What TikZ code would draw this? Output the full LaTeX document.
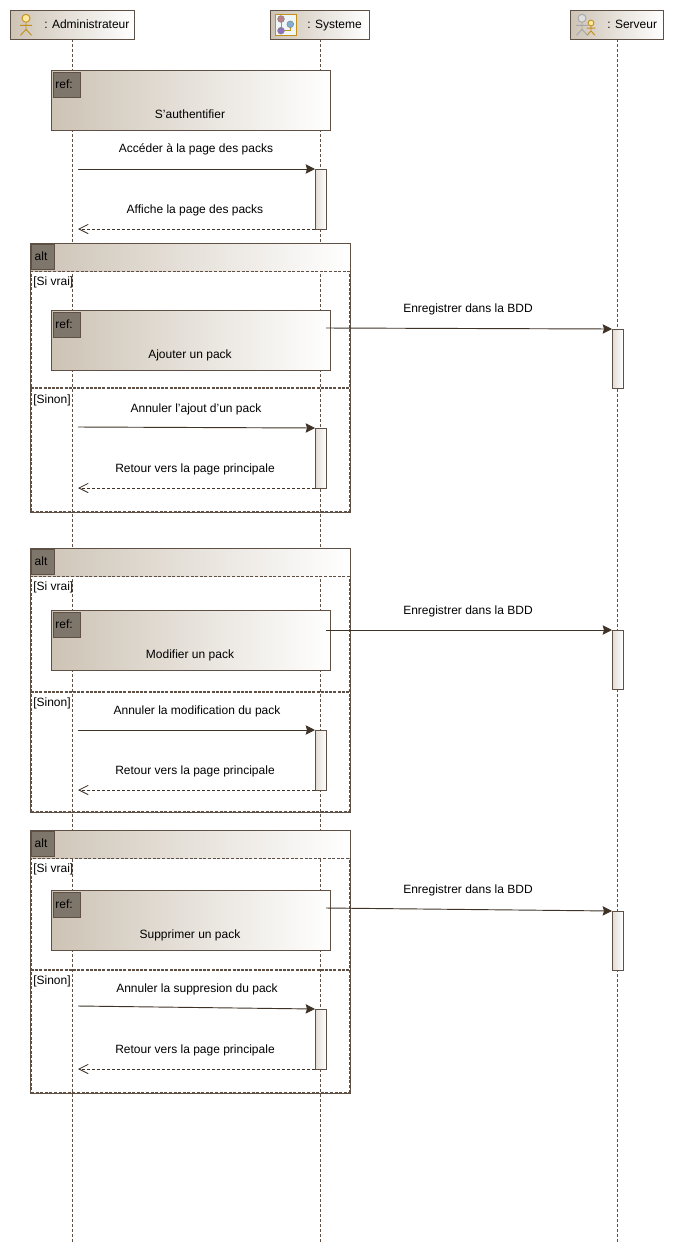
\documentclass[tikz,border=0pt]{standalone}
\usepackage{xcolor}
\usepackage{fontspec}
\setmainfont{Liberation Sans}
\usepackage{tikz}
\usetikzlibrary{shapes,shapes.misc,arrows.meta,positioning,calc}
\definecolor{framecol}{HTML}{5E5044}
\definecolor{msgcol}{HTML}{3F3227}
\definecolor{shadecol}{HTML}{CDC3B5}
\definecolor{tabcol}{HTML}{7F766B}
\definecolor{goldcol}{HTML}{C4901C}
\definecolor{headcol}{HTML}{FFE9A0}
\definecolor{rosecol}{HTML}{B88088}
\definecolor{skycol}{HTML}{7FAED0}
\definecolor{plumcol}{HTML}{8F70C0}
\definecolor{panecol}{HTML}{EEF6FA}

\begin{document}
\begin{tikzpicture}[
    x=0.75pt, y=-0.75pt,
    font=\fontsize{9}{11}\selectfont,
    framebox/.style={rectangle, draw=framecol, line width=0.6pt, inner sep=0pt, outer sep=0pt, anchor=north west},
    headbox/.style={framebox, left color=shadecol, right color=white, minimum height=21.75pt},
    refbox/.style={framebox, left color=shadecol, right color=white, minimum width=209.25pt, minimum height=45pt},
    altband/.style={rectangle, inner sep=0pt, outer sep=0pt, anchor=north west, left color=shadecol, right color=white, minimum width=240pt, minimum height=21pt},
    altframe/.style={framebox, minimum width=240pt},
    altbody/.style={framebox, dash pattern=on 2.25pt off 1.2pt, minimum width=238.5pt},
    sepline/.style={draw=framecol, line width=1.1pt, dash pattern=on 2.25pt off 0.9pt},
    tabbox/.style={chamfered rectangle, chamfered rectangle corners=south east, chamfered rectangle xsep=1.5pt, chamfered rectangle ysep=1.5pt, draw=framecol, fill=tabcol, line width=0.6pt, inner sep=0pt, outer sep=0pt, minimum height=18.75pt, anchor=north west},
    barbox/.style={framebox, left color=shadecol!60, right color=white, minimum width=8.25pt, minimum height=45pt},
    txt/.style={inner sep=0pt, text=black, text height=6.5pt, text depth=2pt, yshift=-1.3pt},
    lifeline/.style={draw=framecol, dash pattern=on 2.25pt off 1.5pt, line width=0.6pt},
    msg/.style={-{Stealth[length=7pt, width=7pt, inset=1pt]}, draw=msgcol, line width=0.7pt},
    msgback/.style={-{Straight Barb[length=7pt, width=7pt]}, draw=msgcol, line width=0.6pt, dash pattern=on 2.25pt off 1.5pt},
    actorfig/.pic={
        \draw [pic actions, fill=none] (0,4) -- (0,11) (-6,7) -- (6,7) (-5.5,17) -- (0,11) -- (5.5,17);
        \draw [pic actions] (0,0) circle (4);
    }
]
    \coordinate (admbot) at (72,1243);
    \coordinate (sysbot) at (320.5,1243);
    \coordinate (srvbot) at (617,1243);

    \node [headbox, minimum width=93pt] (adm) at (10,10) {};
    \node [headbox, minimum width=74.25pt] (sys) at (270,10) {};
    \node [headbox, minimum width=69.75pt] (srv) at (570,10) {};
    \node [txt, anchor=west] (admtxt) at (44,24) {: Administrateur};
    \node [txt, anchor=west] (systxt) at (307,24) {: Systeme};
    \node [txt, anchor=west] (srvtxt) at (607,24) {: Serveur};

    \draw [lifeline] (adm.south -| admbot) -- (admbot);
    \draw [lifeline] (sys.south -| sysbot) -- (sysbot);
    \draw [lifeline] (srv.south -| srvbot) -- (srvbot);

    \pic [draw=goldcol, fill=headcol, line width=0.7pt] at (26,18.3) {actorfig};
    \pic [draw=gray!70, fill=gray!25, line width=0.7pt] at (582,18.3) {actorfig};
    \pic [draw=goldcol, fill=headcol, line width=0.7pt, scale=0.72] at (591,23) {actorfig};
    \draw [draw=goldcol, fill=panecol, line width=0.7pt] (275.5,14.5) rectangle (296.5,35.5);
    \draw [draw=goldcol, line width=0.7pt] (281,19) -- (281,30.7) -- (290.3,30.7) -- (290.3,24.3);
    \draw [draw=framecol!70, fill=rosecol, line width=0.4pt] (281,19) circle (3.4);
    \draw [draw=framecol!70, fill=skycol, line width=0.4pt] (290.3,24.3) circle (3.4);
    \draw [draw=framecol!70, fill=plumcol, line width=0.4pt] (281,30.7) circle (3.4);

    \node [refbox] (ref1) at (51,70) {};
    \node [tabbox, minimum width=20.25pt] (tab1) at (53,72) {};
    \node [txt] (tab1txt) at (64,84) {ref:};
    \node [txt] (ref1txt) at (190,114) {S'authentifier};

    \node [barbox] (bar1) at (315,169) {};
    \node [txt] (m1) at (196,148) {Accéder à la page des packs};
    \node [txt] (m2) at (195,209) {Affiche la page des packs};
    \coordinate (adm1) at (78,169);
    \coordinate (adm2) at (78,229);
    \draw [msg] (adm1) -- (bar1.north west);
    \draw [msgback] (bar1.south west) -- (adm2);

    \node [altband] (alt1band) at (30,243) {};
    \node [altframe, minimum height=201.75pt] (alt1) at (30,243) {};
    \node [altbody, minimum height=180pt] (alt1body) at (31,271) {};
    \node [tabbox, minimum width=17.25pt] (alt1tab) at (31,244) {};
    \node [txt] (alt1txt) at (41,256) {alt};
    \node [txt, anchor=west] (alt1c) at (33,281) {[Si vrai]};
    \node [txt, anchor=west] (alt1d) at (33,398.5) {[Sinon]};
    \coordinate (sep1l) at (31,388);
    \coordinate (sep1r) at (349,388);
    \draw [sepline] (sep1l) -- (sep1r);
    \node [refbox] (ref2) at (51,310) {};
    \node [tabbox, minimum width=20.25pt] (tab2) at (53,312) {};
    \node [txt] (tab2txt) at (64,324) {ref:};
    \node [txt] (ref2txt) at (190,354) {Ajouter un pack};
    \node [barbox, minimum height=44.25pt] (bar2) at (612,329) {};
    \node [txt] (m3) at (468,308) {Enregistrer dans la BDD};
    \coordinate (ref2out) at (326,328);
    \draw [msg] (ref2out) -- (bar2.north west);
    \node [barbox] (bar3) at (315,428) {};
    \node [txt] (m4) at (196,408) {Annuler l'ajout d'un pack};
    \node [txt] (m5) at (195,468) {Retour vers la page principale};
    \coordinate (adm3) at (78,427);
    \coordinate (adm4) at (78,488);
    \draw [msg] (adm3) -- (bar3.north west);
    \draw [msgback] (bar3.south west) -- (adm4);

    \node [altband] (alt2band) at (30,548) {};
    \node [altframe, minimum height=198pt] (alt2) at (30,548) {};
    \node [altbody, minimum height=176.25pt] (alt2body) at (31,576) {};
    \node [tabbox, minimum width=17.25pt] (alt2tab) at (31,549) {};
    \node [txt] (alt2txt) at (41,561) {alt};
    \node [txt, anchor=west] (alt2c) at (33,586) {[Si vrai]};
    \node [txt, anchor=west] (alt2d) at (33,702) {[Sinon]};
    \coordinate (sep2l) at (31,692);
    \coordinate (sep2r) at (349,692);
    \draw [sepline] (sep2l) -- (sep2r);
    \node [refbox] (ref3) at (51,610) {};
    \node [tabbox, minimum width=20.25pt] (tab3) at (53,612) {};
    \node [txt] (tab3txt) at (64,624) {ref:};
    \node [txt] (ref3txt) at (190,654) {Modifier un pack};
    \node [barbox, minimum height=44.25pt] (bar4) at (612,630) {};
    \node [txt] (m6) at (468,610) {Enregistrer dans la BDD};
    \coordinate (ref3out) at (326,630);
    \draw [msg] (ref3out) -- (bar4.north west);
    \node [barbox] (bar5) at (315,730) {};
    \node [txt] (m7) at (197,710) {Annuler la modification du pack};
    \node [txt] (m8) at (195,770) {Retour vers la page principale};
    \coordinate (adm5) at (78,730);
    \coordinate (adm6) at (78,790);
    \draw [msg] (adm5) -- (bar5.north west);
    \draw [msgback] (bar5.south west) -- (adm6);

    \node [altband] (alt3band) at (30,830) {};
    \node [altframe, minimum height=197.25pt] (alt3) at (30,830) {};
    \node [altbody, minimum height=175.5pt] (alt3body) at (31,858) {};
    \node [tabbox, minimum width=17.25pt] (alt3tab) at (31,831) {};
    \node [txt] (alt3txt) at (41,843) {alt};
    \node [txt, anchor=west] (alt3c) at (33,868) {[Si vrai]};
    \node [txt, anchor=west] (alt3d) at (33,980) {[Sinon]};
    \coordinate (sep3l) at (31,970);
    \coordinate (sep3r) at (349,970);
    \draw [sepline] (sep3l) -- (sep3r);
    \node [refbox] (ref4) at (51,890) {};
    \node [tabbox, minimum width=20.25pt] (tab4) at (53,892) {};
    \node [txt] (tab4txt) at (64,904) {ref:};
    \node [txt] (ref4txt) at (190,934) {Supprimer un pack};
    \node [barbox, minimum height=44.25pt] (bar6) at (612,911) {};
    \node [txt] (m9) at (468,889) {Enregistrer dans la BDD};
    \coordinate (ref4out) at (326,908);
    \draw [msg] (ref4out) -- (bar6.north west);
    \node [barbox] (bar7) at (315,1009) {};
    \node [txt] (m10) at (197,988) {Annuler la suppresion du pack};
    \node [txt] (m11) at (195,1049) {Retour vers la page principale};
    \coordinate (adm7) at (78,1006);
    \coordinate (adm8) at (78,1069);
    \draw [msg] (adm7) -- (bar7.north west);
    \draw [msgback] (bar7.south west) -- (adm8);

    \useasboundingbox (0,0) rectangle (674,1253);
\end{tikzpicture}
\end{document}
